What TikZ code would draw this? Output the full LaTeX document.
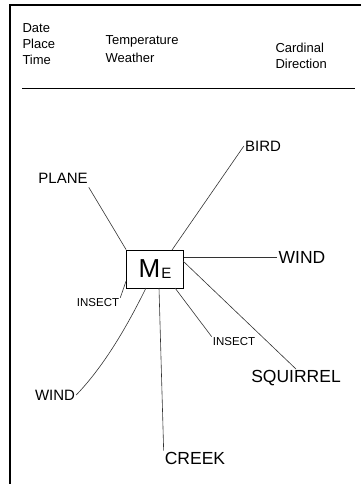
\documentclass[tikz,border=0pt]{standalone}
\usepackage{fontspec}
\setmainfont{Liberation Sans}
\usetikzlibrary{positioning}

\begin{document}
\begin{tikzpicture}[x=1pt,y=-1pt,
  head/.style={font=\fontsize{13}{16}\selectfont,align=left,anchor=west},
  word/.style={font=\fontsize{15}{17}\selectfont,inner sep=1pt},
  big/.style={font=\fontsize{17.5}{19}\selectfont,inner sep=1pt},
  small/.style={font=\fontsize{11.5}{13}\selectfont,inner sep=1pt},
  spoke/.style={line width=0.6pt,black!80}]
\useasboundingbox (0,0) rectangle (361,484);
% frame
\draw[line width=2pt] (361,5) -- (10,5) -- (10,484);
% header
\node[head] (dpt) at (19,44) {Date\\Place\\Time};
\node[head] (tw) at (102,49) {Temperature\\[2pt]Weather};
\node[head] (cd) at (272,56) {Cardinal\\Direction};
\draw[line width=0.7pt] (22,88) -- (355,88);
% centre
\node[draw,line width=0.8pt,minimum width=57pt,minimum height=38pt,
  font=\fontsize{26}{28}\selectfont] (me) at (155,269) {M\kern1pt\raisebox{-1pt}{\fontsize{15}{16}\selectfont E}};
% labels
\node[word] (plane) at (63,178) {PLANE};
\node[word] (bird) at (263,146) {BIRD};
\node[big] (windr) at (302,257) {WIND};
\node[small] (insl) at (98,303) {INSECT};
\node[word] (windl) at (55,395) {WIND};
\node[big] (creek) at (195,458) {CREEK};
\node[small] (insr) at (234,342) {INSECT};
\node[big] (squirrel) at (296,378) {SQUIRREL};
% spokes
\draw[spoke] (plane.south east)+(0,3) -- (me.north west);
\draw[spoke] (bird.west) -- (172,250) coordinate (bt);
\draw[spoke] (me.east) ++(0,-12) coordinate (wr) -- (windr.west);
\draw[spoke] (insl.north east) -- (me.west |- 0,281);
\draw[spoke] (windl.east) .. controls (110,360) and (135,310) .. (146,288);
\draw[spoke] (159,288) -- (creek.north west);
\draw[spoke] (175,288) -- (insr.north west);
\draw[spoke] (183,261) -- (squirrel.north);
\end{tikzpicture}
\end{document}
